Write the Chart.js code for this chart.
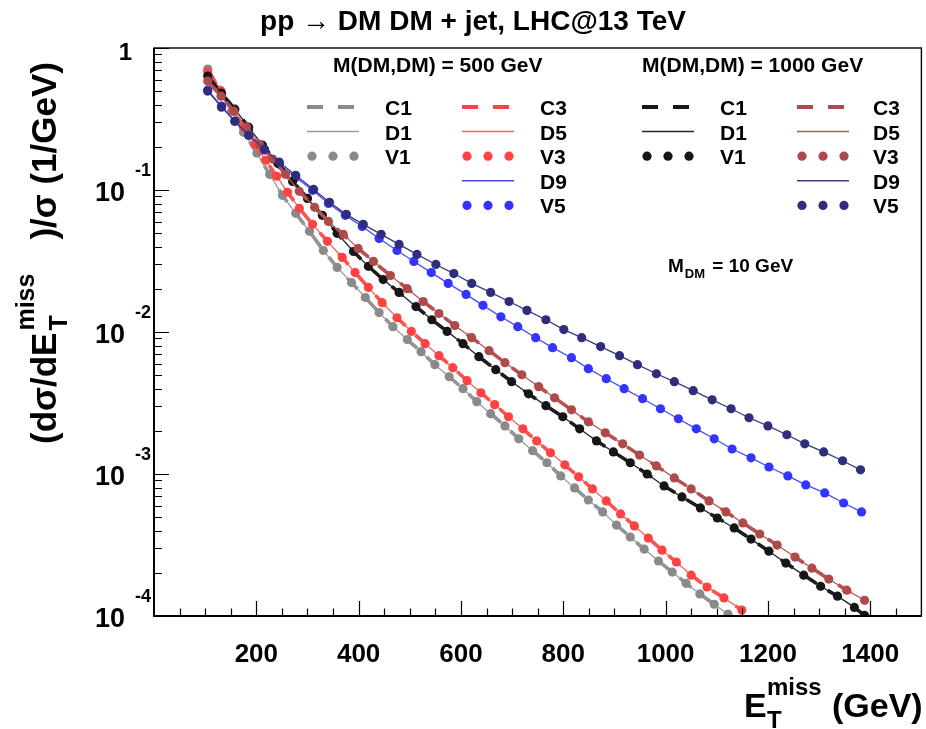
<!DOCTYPE html>
<html>
<head>
<meta charset="utf-8">
<script src="https://cdn.jsdelivr.net/npm/chart.js@4.4.1/dist/chart.umd.min.js"></script>
<style>
  body { margin: 0; background: #fff; }
  #wrap { width: 926px; height: 729px; }
</style>
</head>
<body>
<div id="wrap"><canvas id="myChart" width="926" height="729"></canvas></div>
<script>
// E_T^miss (GeV) and normalised dsigma/dE_T^miss (1/GeV).
// C, D and V operators of one colour lie on top of each other, so they share a curve.

// M(DM,DM) = 500 GeV : C1 / D1 / V1 (grey)
const xGrey500 = [105, 129, 152, 175, 201, 226, 251, 277, 304, 331, 358, 386, 413, 440, 467, 495, 522, 549, 577, 604,
  631, 658, 686, 713, 740, 768, 795, 822, 849, 877, 904, 931, 958, 986, 1013, 1040, 1067, 1095, 1122];
const yGrey500 = [0.711, 0.506, 0.359, 0.255, 0.182, 0.129, 0.0918, 0.0685, 0.0512, 0.0375, 0.0285, 0.0223, 0.0175,
  0.0137, 0.0109, 0.00884, 0.00727, 0.00589, 0.00484, 0.00399, 0.00323, 0.00266, 0.00218, 0.00177, 0.00146, 0.00120,
  0.00097, 0.000798, 0.000656, 0.000541, 0.000437, 0.00036, 0.000296, 0.000244, 0.000204, 0.00017, 0.000143,
  0.000121, 0.000103];

// M(DM,DM) = 500 GeV : C3 / D5 / V3 (red)
const xRed500 = [105, 131, 154, 175, 197, 218, 240, 261, 284, 310, 339, 368, 393, 419, 446, 475, 503, 530, 557, 584,
  612, 639, 666, 693, 721, 748, 775, 803, 830, 857, 884, 912, 939, 966, 993, 1021, 1050, 1081, 1114, 1149];
const yRed500 = [0.677, 0.497, 0.365, 0.277, 0.21, 0.162, 0.125, 0.0964, 0.0743, 0.0573, 0.0435, 0.0335, 0.0262,
  0.0206, 0.0161, 0.0126, 0.0101, 0.00828, 0.00681, 0.00561, 0.00454, 0.00373, 0.00308, 0.00253, 0.00208, 0.00171,
  0.00141, 0.00116, 0.000955, 0.000785, 0.000646, 0.000523, 0.000431, 0.000354, 0.000291, 0.00024, 0.000194,
  0.00016, 0.000134, 0.00011];

// M(DM,DM) = 500 GeV : D9 / V5 (blue)
const xBlue500 = [105, 132, 158, 185, 216, 245, 277, 310, 341, 374, 407, 440, 475, 508, 542, 575, 610, 643, 678, 711,
  746, 779, 816, 849, 884, 919, 955, 990, 1025, 1060, 1095, 1130, 1167, 1202, 1239, 1274, 1311, 1348, 1383];
const yBlue500 = [0.506, 0.39, 0.305, 0.243, 0.191, 0.152, 0.123, 0.0995, 0.0805, 0.0663, 0.0554, 0.0456, 0.0375,
  0.0314, 0.0262, 0.022, 0.0184, 0.0154, 0.0128, 0.0109, 0.00912, 0.00776, 0.00659, 0.00552, 0.00469, 0.00399,
  0.00339, 0.00288, 0.00245, 0.00208, 0.00177, 0.0015, 0.0013, 0.00112, 0.00097, 0.000838, 0.000736, 0.000625,
  0.000541];

// M(DM,DM) = 1000 GeV : C1 / D1 / V1 (black)
const xBlack1000 = [105, 132, 158, 185, 212, 242, 271, 300, 329, 358, 390, 419, 448, 479, 512, 543, 573, 604, 635,
  668, 699, 732, 766, 799, 832, 865, 898, 931, 964, 997, 1032, 1068, 1101, 1134, 1167, 1202, 1235, 1270, 1303, 1336,
  1369, 1389];
const yBlack1000 = [0.634, 0.481, 0.371, 0.277, 0.207, 0.154, 0.115, 0.0873, 0.0663, 0.0495, 0.0369, 0.029, 0.0234,
  0.019, 0.0151, 0.0122, 0.0101, 0.00828, 0.0067, 0.00543, 0.00447, 0.00367, 0.00303, 0.00253, 0.00208, 0.00171,
  0.00143, 0.0012, 0.001, 0.000824, 0.000689, 0.000577, 0.00049, 0.000417, 0.000348, 0.000286, 0.000236, 0.000194,
  0.000162, 0.000138, 0.000115, 0.000101];

// M(DM,DM) = 1000 GeV : C3 / D5 / V3 (dark red)
const xBrown1000 = [105, 131, 156, 181, 206, 232, 257, 284, 314, 341, 370, 399, 429, 462, 495, 526, 557, 588, 621,
  655, 686, 719, 752, 783, 816, 849, 882, 916, 949, 982, 1017, 1050, 1085, 1118, 1151, 1184, 1218, 1253, 1286, 1319,
  1354, 1389];
const yBrown1000 = [0.585, 0.458, 0.359, 0.277, 0.21, 0.165, 0.129, 0.0979, 0.0755, 0.0601, 0.0487, 0.0388, 0.0314,
  0.025, 0.0202, 0.0164, 0.0135, 0.0111, 0.00912, 0.00739, 0.00608, 0.005, 0.00412, 0.00344, 0.00283, 0.00233,
  0.00195, 0.00163, 0.00136, 0.00114, 0.000938, 0.000785, 0.000646, 0.000541, 0.000452, 0.000378, 0.000316,
  0.00026, 0.000217, 0.000182, 0.000152, 0.000129];

// M(DM,DM) = 1000 GeV : D9 / V5 (navy)
const xNavy1000 = [105, 132, 158, 185, 216, 245, 277, 312, 343, 376, 409, 444, 479, 514, 551, 586, 621, 658, 694,
  729, 766, 801, 836, 873, 910, 945, 982, 1017, 1054, 1091, 1128, 1163, 1200, 1237, 1272, 1309, 1346, 1381];
const yNavy1000 = [0.497, 0.383, 0.305, 0.243, 0.194, 0.157, 0.127, 0.101, 0.0819, 0.0674, 0.0573, 0.0487, 0.0414,
  0.0352, 0.0299, 0.0258, 0.022, 0.019, 0.0164, 0.0142, 0.0122, 0.0104, 0.00912, 0.00789, 0.00681, 0.00589, 0.00508,
  0.00447, 0.00386, 0.00333, 0.00288, 0.00249, 0.00218, 0.00189, 0.00163, 0.00143, 0.00124, 0.00107];

// axis ticks
const xMajorTicks = [200, 400, 600, 800, 1000, 1200, 1400];
const yDecades = [-4, -3, -2, -1, 0];

const C = {
  grey: '#8a8a8a', greyLine: '#9c9c9c',
  red: '#ff4242', redLine: '#ff6060',
  blue: '#3434ff', blueLine: '#4a4aff',
  black: '#161616', blackLine: '#222222',
  brown: '#b04a4a', brownLine: '#b85858',
  navy: '#2e2e7c', navyLine: '#3a3a86'
};

const FONT = '"Liberation Sans", Arial, Helvetica, sans-serif';
const DASH = [15, 13];

function pts(xs, ys) {
  return xs.map((x, i) => ({ x: x, y: ys[i] }));
}

function band(xs, ys, color, lineColor, withDash) {
  const out = [];
  if (withDash) {
    out.push({ data: pts(xs, ys), borderColor: color, borderWidth: 3.5, borderDash: DASH,
      pointRadius: 0, fill: false });
  }
  out.push({ data: pts(xs, ys), borderColor: lineColor, borderWidth: 1.3, pointRadius: 0, fill: false });
  out.push({ data: pts(xs, ys), showLine: false, pointRadius: 4.6, pointBorderWidth: 0,
    pointBackgroundColor: color, pointBorderColor: color, borderColor: color });
  return out;
}

const datasets = [
  ...band(xGrey500, yGrey500, C.grey, C.greyLine, true),
  ...band(xRed500, yRed500, C.red, C.redLine, true),
  ...band(xBlue500, yBlue500, C.blue, C.blueLine, false),
  ...band(xBlack1000, yBlack1000, C.black, C.blackLine, true),
  ...band(xBrown1000, yBrown1000, C.brown, C.brownLine, true),
  ...band(xNavy1000, yNavy1000, C.navy, C.navyLine, false)
];
// later entries are painted on top
datasets.forEach((d, i) => { d.order = datasets.length - i; d.tension = 0; });

// legend layout: [symbol x, text x, row, kind, colour, label]
const legendRows = [
  [307, 385, 0, 'C', C.grey, 'C1'], [307, 385, 1, 'D', C.greyLine, 'D1'], [307, 385, 2, 'V', C.grey, 'V1'],
  [462, 540, 0, 'C', C.red, 'C3'], [462, 540, 1, 'D', C.redLine, 'D5'], [462, 540, 2, 'V', C.red, 'V3'],
  [462, 540, 3, 'D', C.blueLine, 'D9'], [462, 540, 4, 'V', C.blue, 'V5'],
  [642, 720, 0, 'C', C.black, 'C1'], [642, 720, 1, 'D', C.blackLine, 'D1'], [642, 720, 2, 'V', C.black, 'V1'],
  [797, 873, 0, 'C', C.brown, 'C3'], [797, 873, 1, 'D', C.brownLine, 'D5'], [797, 873, 2, 'V', C.brown, 'V3'],
  [797, 873, 3, 'D', C.navyLine, 'D9'], [797, 873, 4, 'V', C.navy, 'V5']
];

const rootStyle = {
  id: 'rootStyle',
  afterDraw(chart) {
    const ctx = chart.ctx;
    const a = chart.chartArea;
    const xs = chart.scales.x;
    const ys = chart.scales.y;
    ctx.save();

    // frame
    ctx.strokeStyle = '#000';
    ctx.lineWidth = 1.4;
    ctx.strokeRect(a.left, a.top, a.right - a.left, a.bottom - a.top);
    ctx.lineWidth = 2;
    ctx.beginPath();
    ctx.moveTo(a.left, a.top);
    ctx.lineTo(a.left, a.bottom);
    ctx.lineTo(a.right, a.bottom);
    ctx.stroke();

    // x ticks (inside) and labels
    ctx.lineWidth = 1.2;
    ctx.beginPath();
    for (let v = 50; v < 1500; v += 50) {
      const px = Math.round(xs.getPixelForValue(v)) + 0.5;
      const len = v % 200 === 0 ? 15 : 7.5;
      ctx.moveTo(px, a.bottom);
      ctx.lineTo(px, a.bottom - len);
    }
    // y ticks
    for (const d of yDecades) {
      const py = Math.round(ys.getPixelForValue(Math.pow(10, d))) + 0.5;
      ctx.moveTo(a.left, py);
      ctx.lineTo(a.left + 15, py);
      if (d < 0) {
        for (let k = 2; k <= 9; k++) {
          const pm = Math.round(ys.getPixelForValue(k * Math.pow(10, d))) + 0.5;
          ctx.moveTo(a.left, pm);
          ctx.lineTo(a.left + 8, pm);
        }
      }
    }
    ctx.stroke();

    ctx.fillStyle = '#000';
    ctx.font = 'bold 26px ' + FONT;
    ctx.textAlign = 'center';
    ctx.textBaseline = 'alphabetic';
    for (const v of xMajorTicks) {
      ctx.fillText(String(v), xs.getPixelForValue(v), a.bottom + 46);
    }

    for (const d of yDecades) {
      const py = ys.getPixelForValue(Math.pow(10, d));
      if (d === 0) {
        ctx.textAlign = 'right';
        ctx.font = 'bold 24px ' + FONT;
        ctx.fillText('1', 132, py + 12);
        continue;
      }
      ctx.textAlign = 'right';
      ctx.font = 'bold 27px ' + FONT;
      ctx.fillText('10', 125, py + 11);
      ctx.font = 'bold 18px ' + FONT;
      ctx.fillText(String(d), 151, py - 14);
    }

    // title
    ctx.textAlign = 'center';
    ctx.font = 'bold 28px ' + FONT;
    ctx.fillText('pp \u2192 DM DM + jet, LHC@13 TeV', 473, 30);

    // x axis title
    ctx.textAlign = 'left';
    ctx.font = 'bold 34px ' + FONT;
    ctx.fillText('E', 744, 717);
    ctx.font = 'bold 24px ' + FONT;
    ctx.fillText('T', 767, 728);
    ctx.fillText('miss', 767, 695);
    ctx.font = 'bold 34px ' + FONT;
    ctx.fillText('(GeV)', 832, 717);

    // y axis title (rotated)
    ctx.save();
    ctx.translate(56, 444);
    ctx.rotate(-Math.PI / 2);
    ctx.font = 'bold 35px ' + FONT;
    ctx.fillText('(d\u03c3/dE', 0, 0);
    let u = ctx.measureText('(d\u03c3/dE').width + 2;
    ctx.font = 'bold 25px ' + FONT;
    ctx.fillText('T', u, 11);
    ctx.fillText('miss', u, -22);
    u += ctx.measureText('miss').width + 34;
    ctx.font = 'bold 35px ' + FONT;
    ctx.fillText(')/\u03c3 (1/GeV)', u, 0);
    ctx.restore();

    // legend headers
    ctx.font = 'bold 21px ' + FONT;
    ctx.fillText('M(DM,DM) = 500 GeV', 333, 72);
    ctx.fillText('M(DM,DM) = 1000 GeV', 642, 72);

    // legend rows
    for (const [sx, tx, row, kind, color, label] of legendRows) {
      const cy = 107 + row * 24.6;
      ctx.strokeStyle = color;
      ctx.fillStyle = color;
      if (kind === 'C') {
        ctx.lineWidth = 4;
        ctx.beginPath();
        ctx.moveTo(sx, cy); ctx.lineTo(sx + 16, cy);
        ctx.moveTo(sx + 31, cy); ctx.lineTo(sx + 47, cy);
        ctx.stroke();
      } else if (kind === 'D') {
        ctx.lineWidth = 1.5;
        ctx.beginPath();
        ctx.moveTo(sx, cy); ctx.lineTo(sx + 52, cy);
        ctx.stroke();
      } else {
        for (const dx of [5, 26, 47]) {
          ctx.beginPath();
          ctx.arc(sx + dx, cy, 4.6, 0, Math.PI * 2);
          ctx.fill();
        }
      }
      ctx.fillStyle = '#000';
      ctx.font = 'bold 21px ' + FONT;
      ctx.fillText(label, tx, cy + 8);
    }

    // mass annotation
    ctx.font = 'bold 19px ' + FONT;
    ctx.fillText('M', 668, 272);
    const mw = ctx.measureText('M').width;
    ctx.font = 'bold 13px ' + FONT;
    ctx.fillText('DM', 668 + mw + 1, 278);
    const dw = ctx.measureText('DM').width;
    ctx.font = 'bold 19px ' + FONT;
    ctx.fillText(' = 10 GeV', 668 + mw + dw + 3, 272);

    ctx.restore();
  }
};

const ctx = document.getElementById('myChart');

new Chart(ctx, {
  type: 'line',
  data: { datasets: datasets },
  options: {
    responsive: false,
    animation: false,
    events: [],
    layout: { padding: { left: 154, top: 48, right: 3, bottom: 113 } },
    plugins: { legend: { display: false }, tooltip: { enabled: false } },
    scales: {
      x: { type: 'linear', min: 0, max: 1500, display: false },
      y: { type: 'logarithmic', min: 0.0001, max: 1, display: false }
    }
  },
  plugins: [rootStyle]
});
</script>
</body>
</html>
